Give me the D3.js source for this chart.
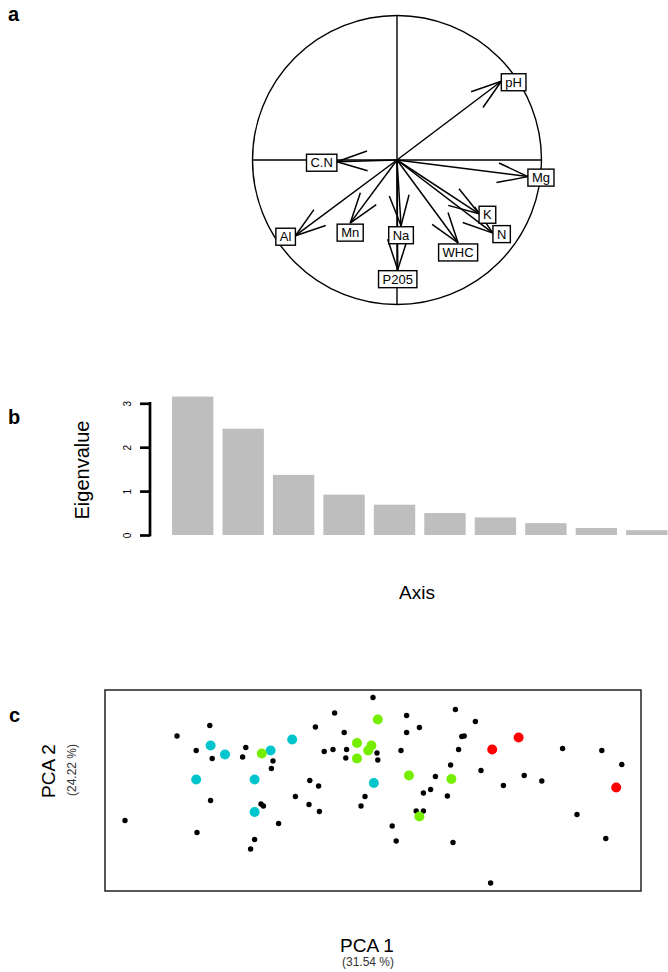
<!DOCTYPE html>
<html>
<head>
<meta charset="utf-8">
<script src="https://cdn.jsdelivr.net/npm/d3@7"></script>
<style>
  html, body { margin: 0; padding: 0; background: #fff; }
  svg { display: block; font-family: "Liberation Sans", Arial, sans-serif; }
</style>
</head>
<body>
<svg id="chart" width="668" height="972"></svg>
<script>
// ---------- DATA ----------
// Panel a: correlation circle (variable loadings on PCA 1 / PCA 2)
const variables = ["pH", "C.N", "Mg", "K", "N", "WHC", "Na", "P205", "Mn", "Al"];
const loadX = [0.722, -0.416, 0.906, 0.568, 0.664, 0.423, 0.028, 0.005, -0.324, -0.703];
const loadY = [0.545, -0.012, -0.115, -0.372, -0.506, -0.574, -0.455, -0.759, -0.437, -0.524];

// Panel b: eigenvalues
const axes = [1, 2, 3, 4, 5, 6, 7, 8, 9, 10];
const eigenvalues = [3.154, 2.422, 1.37, 0.92, 0.69, 0.50, 0.40, 0.27, 0.16, 0.11];
const eigenTicks = [0, 1, 2, 3];

// Panel c: site scores
const blackX = [-3.10, -2.45, -2.04, -2.21, -2.01, -1.59, -1.63, -1.25, -1.27, -2.03, -2.20, -1.40, -1.37, -1.48, -1.53, -1.18, -0.97, -0.80, -0.67, -0.79, -0.68, -0.72, -0.48, 0.00, -0.36, -0.61, -0.50, -0.33, -0.34, 0.05, 0.06, -0.10, -0.15, 0.42, 0.42, 0.58, 0.35, 1.03, 1.28, 1.11, 1.14, 1.07, 0.97, 0.78, 0.72, 0.63, 0.93, 0.54, 0.63, 0.24, 0.29, 1.00, 1.35, 1.63, 1.89, 2.11, 2.37, 2.86, 3.11, 2.55, 2.91, 1.47];
const blackY = [-0.60, 1.09, 1.30, 0.80, 0.64, 0.86, 0.67, 0.59, 0.44, -0.20, -0.84, -0.27, -0.31, -0.98, -1.17, -0.66, -0.12, -0.28, -0.42, 0.20, 0.09, 1.27, 1.55, 1.86, 1.16, 0.78, 0.82, 0.82, 0.65, 0.75, 0.61, -0.12, -0.31, 1.50, 1.16, 1.26, 0.80, 1.62, 1.38, 1.08, 1.09, 0.82, 0.51, 0.28, 0.02, -0.05, -0.11, -0.41, -0.41, -0.71, -1.01, -1.04, 0.40, 0.10, 0.30, 0.19, 0.84, 0.80, 0.52, -0.48, -0.96, -1.85];
const cyanX = [-2.03, -1.85, -2.21, -1.48, -1.48, -1.28, -1.01, 0.01];
const cyanY = [0.90, 0.72, 0.22, 0.22, -0.43, 0.80, 1.02, 0.15];
const greenX = [-1.39, 0.06, -0.20, -0.02, -0.06, -0.20, 0.45, 0.98, 0.58];
const greenY = [0.74, 1.42, 0.95, 0.90, 0.80, 0.64, 0.30, 0.23, -0.52];
const redX = [1.49, 1.82, 3.04];
const redY = [0.82, 1.06, 0.06];

// ---------- DRAW ----------
const svg = d3.select("#chart");
const FONT = '"Liberation Sans", Arial, sans-serif';

// panel letters
[["a", 8, 21], ["b", 8, 424], ["c", 9, 722]].forEach(([t, x, y]) => {
  svg.append("text").attr("x", x).attr("y", y).attr("font-size", 20)
    .attr("font-weight", "bold").text(t);
});

// ===== Panel a =====
const cx = 397, cy = 160, R = 144.5;
const ax = d3.scaleLinear().domain([-1, 1]).range([cx - R, cx + R]);
const ay = d3.scaleLinear().domain([-1, 1]).range([cy + R, cy - R]);
const ga = svg.append("g");
ga.append("circle").attr("cx", ax(0)).attr("cy", ay(0)).attr("r", ax(1) - ax(0))
  .attr("fill", "none").attr("stroke", "#000").attr("stroke-width", 1.4);
ga.append("line").attr("x1", ax(-1)).attr("x2", ax(1)).attr("y1", ay(0)).attr("y2", ay(0))
  .attr("stroke", "#000").attr("stroke-width", 1.4);
ga.append("line").attr("x1", ax(0)).attr("x2", ax(0)).attr("y1", ay(1)).attr("y2", ay(-1))
  .attr("stroke", "#000").attr("stroke-width", 1.4);

const headLen = 32, headAng = 18 * Math.PI / 180;
variables.forEach((v, i) => {
  const x0 = ax(0), y0 = ay(0), x1 = ax(loadX[i]), y1 = ay(loadY[i]);
  const ang = Math.atan2(y1 - y0, x1 - x0);
  ga.append("line").attr("x1", x0).attr("y1", y0).attr("x2", x1).attr("y2", y1)
    .attr("stroke", "#000").attr("stroke-width", 1.5);
  [-1, 1].forEach(s => {
    const a = ang + Math.PI + s * headAng;
    ga.append("line").attr("x1", x1).attr("y1", y1)
      .attr("x2", x1 + headLen * Math.cos(a)).attr("y2", y1 + headLen * Math.sin(a))
      .attr("stroke", "#000").attr("stroke-width", 1.5);
  });
});
// labels (boxes)
variables.forEach((v, i) => {
  const x1 = ax(loadX[i]), y1 = ay(loadY[i]);
  const t = ga.append("text").attr("font-size", 13).attr("text-anchor", "middle")
    .attr("dy", "0.36em").text(v);
  const w = t.node().getComputedTextLength() + 8, h = 17;
  let bx, by;
  if (Math.abs(loadX[i]) > Math.abs(loadY[i])) {
    bx = loadX[i] > 0 ? x1 + w / 2 : x1 - w / 2;
    by = y1 + 1;
  } else {
    bx = x1;
    by = loadY[i] > 0 ? y1 - h / 2 : y1 + h / 2 + 1;
  }
  ga.insert("rect", () => t.node()).attr("x", bx - w / 2).attr("y", by - h / 2)
    .attr("width", w).attr("height", h).attr("fill", "#fff")
    .attr("stroke", "#000").attr("stroke-width", 1.4);
  t.attr("x", bx).attr("y", by);
});

// ===== Panel b =====
const bx = d3.scaleBand().domain(axes).range([167.5, 672]).paddingInner(0.18).paddingOuter(0.09);
const by = d3.scaleLinear().domain([0, 3]).range([535, 403.3]);
const gb = svg.append("g");
gb.selectAll("rect.bar").data(axes).enter().append("rect")
  .attr("x", d => bx(d)).attr("width", bx.bandwidth())
  .attr("y", (d, i) => by(eigenvalues[i])).attr("height", (d, i) => by(0) - by(eigenvalues[i]))
  .attr("fill", "#bebebe");
const yAxis = gb.append("g").attr("transform", "translate(150,0)")
  .call(d3.axisLeft(by).tickValues(eigenTicks).tickSize(10).tickSizeOuter(0).tickFormat(d3.format("d")));
yAxis.select(".domain").remove();
yAxis.selectAll(".tick line").attr("stroke", "#000").attr("stroke-width", 2.7);
yAxis.selectAll(".tick text").attr("font-family", FONT).attr("font-size", 10).attr("fill", "#000")
  .attr("x", null).attr("dy", null).attr("text-anchor", "middle")
  .attr("transform", "translate(-23,0) rotate(-90)").attr("y", 3.5);
gb.append("line").attr("x1", 150).attr("x2", 150).attr("y1", by(0) + 1.3).attr("y2", by(3) - 1.3)
  .attr("stroke", "#000").attr("stroke-width", 2.7);
gb.append("text").attr("transform", "translate(89,470) rotate(-90)").attr("text-anchor", "middle")
  .attr("font-size", 20).text("Eigenvalue");
gb.append("text").attr("x", 417).attr("y", 599).attr("text-anchor", "middle")
  .attr("font-size", 19).text("Axis");

// ===== Panel c =====
const px = d3.scaleLinear().domain([-3.35, 3.35]).range([105, 641]);
const py = d3.scaleLinear().domain([-2.01, 2.01]).range([891, 690]);
const gc = svg.append("g");
gc.append("rect").attr("x", px(-3.35)).attr("y", py(2.01))
  .attr("width", px(3.35) - px(-3.35)).attr("height", py(-2.01) - py(2.01))
  .attr("fill", "none").attr("stroke", "#222").attr("stroke-width", 1.5);
function pts(xs, ys, r, col) {
  gc.append("g").selectAll("circle").data(xs).enter().append("circle")
    .attr("cx", d => px(d)).attr("cy", (d, i) => py(ys[i])).attr("r", r).attr("fill", col);
}
pts(blackX, blackY, 2.7, "#000");
pts(cyanX, cyanY, 5, "#00c5cd");
pts(greenX, greenY, 5, "#76ee00");
pts(redX, redY, 5, "#ff0000");

gc.append("text").attr("x", 367).attr("y", 952).attr("text-anchor", "middle")
  .attr("font-size", 19).text("PCA 1");
gc.append("text").attr("x", 368).attr("y", 966).attr("text-anchor", "middle")
  .attr("font-size", 12).attr("fill", "#333").text("(31.54 %)");
gc.append("text").attr("transform", "translate(55,771) rotate(-90)").attr("text-anchor", "middle")
  .attr("font-size", 19).text("PCA 2");
gc.append("text").attr("transform", "translate(75.5,770) rotate(-90)").attr("text-anchor", "middle")
  .attr("font-size", 12).attr("fill", "#333").text("(24.22 %)");
</script>
</body>
</html>
